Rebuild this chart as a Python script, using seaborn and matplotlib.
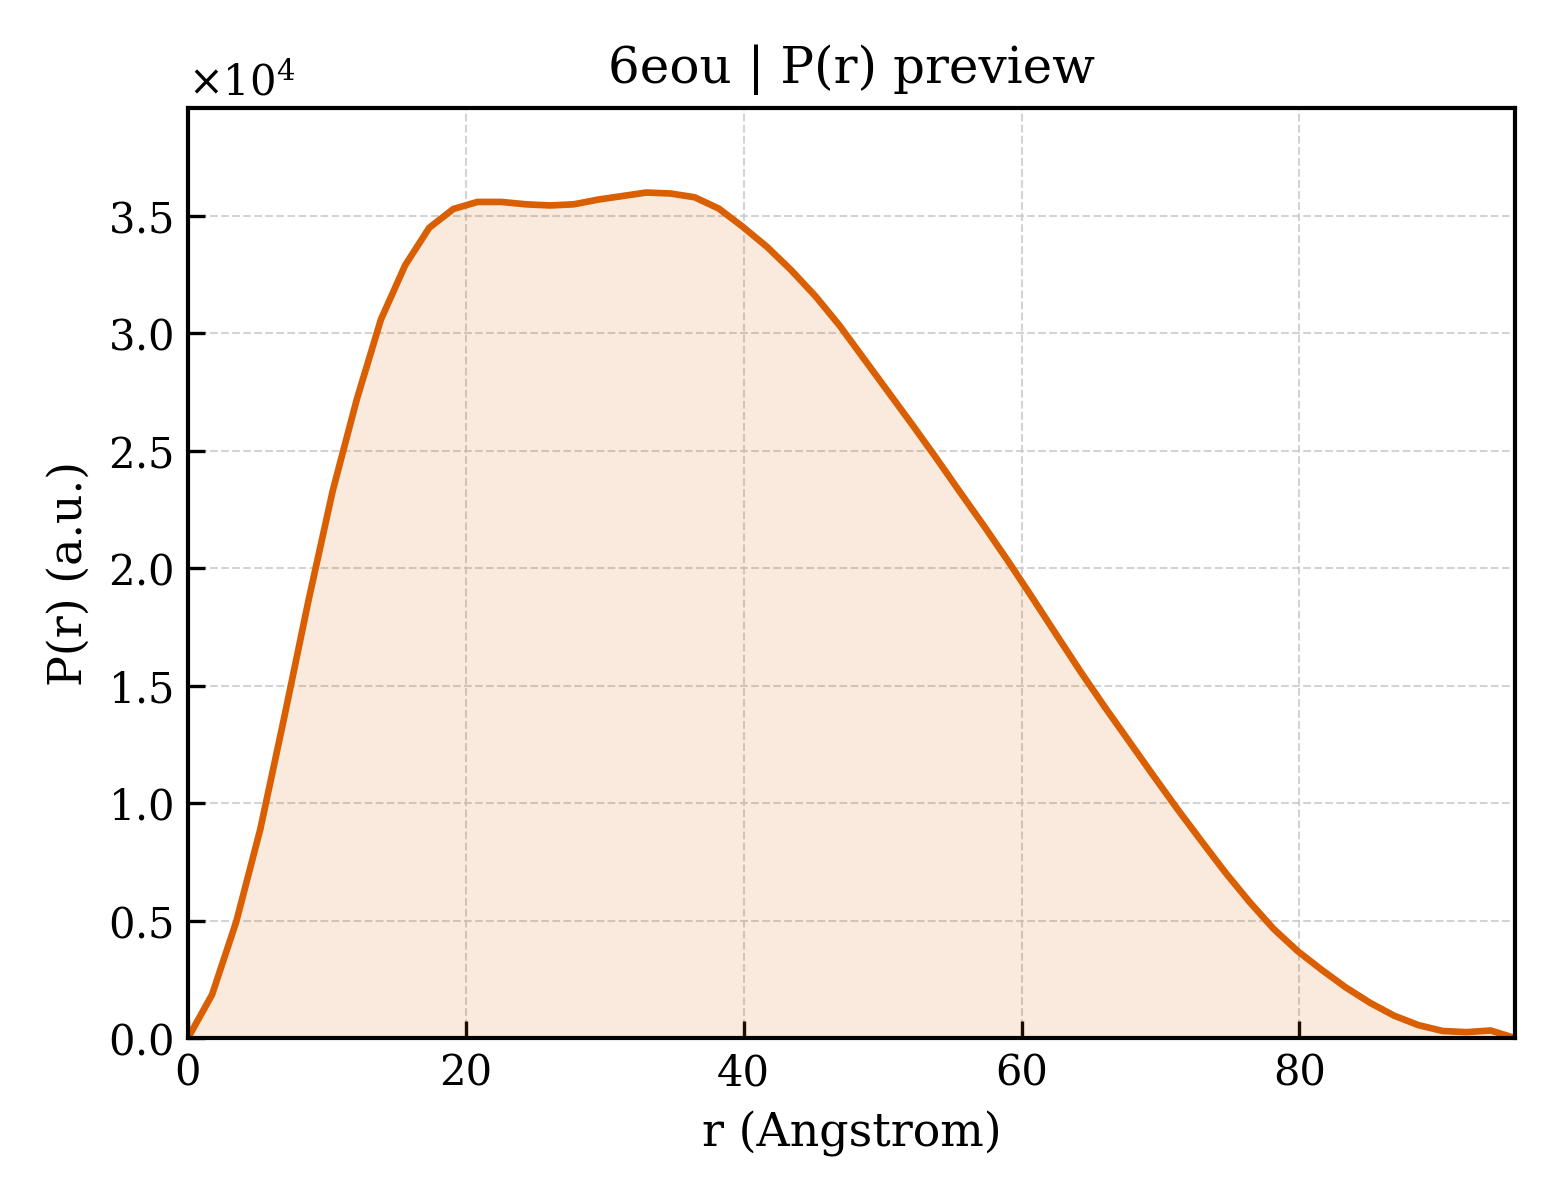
import seaborn as sns
import matplotlib
matplotlib.use("Agg")
import matplotlib.pyplot as plt
import numpy as np
import pandas as pd

# P(r), r step ~1.736 A, 56 points up to Dmax
r_max = 95.5
p_r = [
    0.0, 0.185, 0.495, 0.89, 1.37, 1.865, 2.33, 2.72, 3.06, 3.29,
    3.45, 3.53, 3.56, 3.56, 3.55, 3.545, 3.55, 3.57, 3.585, 3.60,
    3.596, 3.58, 3.532, 3.454, 3.369, 3.27, 3.16, 3.035, 2.895, 2.755,
    2.615, 2.472, 2.325, 2.18, 2.03, 1.875, 1.717, 1.56, 1.41, 1.265,
    1.12, 0.977, 0.84, 0.705, 0.58, 0.465, 0.37, 0.29, 0.215, 0.15,
    0.095, 0.055, 0.03, 0.025, 0.032, 0.0,
]
p_r = [v * 1e4 for v in p_r]
r = np.linspace(0, r_max, len(p_r))

df = pd.DataFrame({'r': r, 'P': p_r})

sns.set_theme(style="ticks")
plt.rcParams['font.family'] = ['DejaVu Serif']
plt.rcParams['mathtext.fontset'] = 'dejavuserif'
plt.rcParams['text.color'] = 'black'
plt.rcParams['axes.labelcolor'] = 'black'

fig, ax = plt.subplots(figsize=(5.2, 4), dpi=300)
line_color = '#d95f02'

ax.fill_between(df['r'], df['P'], 0, color=line_color, alpha=0.13, linewidth=0)
sns.lineplot(data=df, x='r', y='P', color=line_color, linewidth=1.6, ax=ax)

ax.set_xlim(0, r_max)
ax.set_ylim(0, max(p_r) * 1.1)
ax.set_title('6eou | P(r) preview', fontsize=12, color='black')
ax.set_xlabel('r (Angstrom)', fontsize=11, color='black')
ax.set_ylabel('P(r) (a.u.)', fontsize=11, color='black')

ax.ticklabel_format(axis='y', style='sci', scilimits=(0, 0), useMathText=True)
ax.yaxis.get_offset_text().set_fontsize(10)
ax.yaxis.get_offset_text().set_color('black')
ax.tick_params(direction='in', length=4, width=0.8, labelsize=10, colors='black')
ax.grid(True, linestyle='--', linewidth=0.5, color='#c8c8c8', alpha=0.8)
for s in ax.spines.values():
    s.set_linewidth(1.0)
    s.set_color('black')
    s.set_visible(True)

fig.subplots_adjust(left=0.1205, right=0.971, bottom=0.135, top=0.91)
fig.savefig('out.png', dpi=300)
